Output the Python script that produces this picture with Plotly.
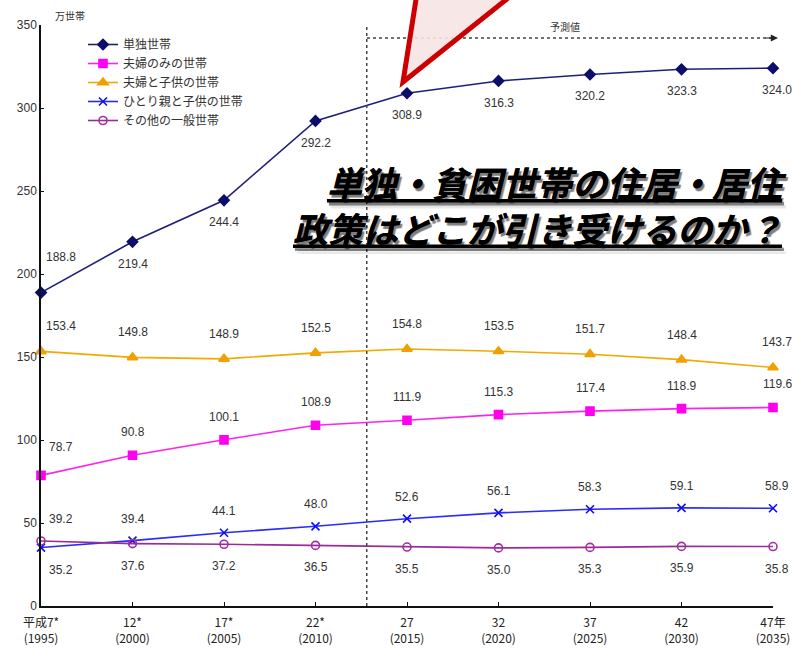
import plotly.graph_objects as go

# ---------------- data ----------------
x_labels = ["平成7*<br>(1995)", "12*<br>(2000)", "17*<br>(2005)", "22*<br>(2010)",
            "27<br>(2015)", "32<br>(2020)", "37<br>(2025)", "42<br>(2030)", "47年<br>(2035)"]
series_names = ["単独世帯", "夫婦のみの世帯", "夫婦と子供の世帯", "ひとり親と子供の世帯", "その他の一般世帯"]
single = [188.8, 219.4, 244.4, 292.2, 308.9, 316.3, 320.2, 323.3, 324.0]
couple_only = [78.7, 90.8, 100.1, 108.9, 111.9, 115.3, 117.4, 118.9, 119.6]
couple_kids = [153.4, 149.8, 148.9, 152.5, 154.8, 153.5, 151.7, 148.4, 143.7]
single_parent = [35.2, 39.4, 44.1, 48.0, 52.6, 56.1, 58.3, 59.1, 58.9]
other = [39.2, 37.6, 37.2, 36.5, 35.5, 35.0, 35.3, 35.9, 35.8]
y_ticks = [0, 50, 100, 150, 200, 250, 300, 350]
forecast_start = 3.56  # position of the forecast divider (between 2010 and 2015)

# ---------------- layout helpers (pixel -> paper) ----------------
W, H = 792, 651
L, R, T, B = 41, 792 - 773, 25, 651 - 606
PW, PH = W - L - R, H - T - B


def px(xp):
    return (xp - L) / PW


def py(yp):
    return (H - B - yp) / PH


xs = list(range(len(x_labels)))
styles = [
    dict(data=single, color="#1f1f7a", mcolor="#0d0d6b", symbol="diamond", size=8, shift=-22, first=36),
    dict(data=couple_only, color="#ff22ee", mcolor="#ff00ee", symbol="square", size=8, shift=23, first=28),
    dict(data=couple_kids, color="#f2a900", mcolor="#f0a000", symbol="triangle-up", size=9, shift=25, first=25),
    dict(data=single_parent, color="#2a2aff", mcolor="#1010ee", symbol="x-thin-open", size=8, shift=22, first=-22),
    dict(data=other, color="#9a2c9a", mcolor="#a030a0", symbol="circle-open", size=8, shift=-22, first=22),
]

fig = go.Figure()
for name, st in zip(series_names, styles):
    fig.add_trace(go.Scatter(
        x=xs, y=st["data"], name=name, mode="lines+markers",
        line=dict(color=st["color"], width=1.6),
        marker=dict(symbol=st["symbol"], size=st["size"], color=st["mcolor"],
                    line=dict(color=st["mcolor"], width=1.6)),
        cliponaxis=False,
    ))

annotations = []
for st in styles:
    for i, v in enumerate(st["data"]):
        xshift = 0
        yshift = st["shift"]
        if i == 0:
            xshift = 20
            yshift = st["first"]
        if i == len(xs) - 1:
            xshift = 4
        annotations.append(dict(
            x=i, y=v, xref="x", yref="y", text=f"{v:.1f}", showarrow=False,
            xshift=xshift, yshift=yshift,
            font=dict(family="Arial, Liberation Sans", size=12, color="#333333"),
        ))

# unit label
annotations.append(dict(x=px(70), y=py(15), xref="paper", yref="paper", text="万世帯",
                        xanchor="center", yanchor="middle",
                        showarrow=False, font=dict(family="Noto Sans CJK JP", size=10, color="#333333")))
# forecast label
annotations.append(dict(x=px(565), y=py(27), xref="paper", yref="paper", text="予測値",
                        xanchor="center", yanchor="middle",
                        showarrow=False, font=dict(family="Noto Sans CJK JP", size=10, color="#333333")))
# forecast arrow head
annotations.append(dict(x=px(778), y=py(38), ax=-14, ay=0, xref="paper", yref="paper",
                        axref="pixel", ayref="pixel", text="", showarrow=True,
                        arrowhead=2, arrowsize=1.2, arrowwidth=1.2, arrowcolor="#222222"))
# overlay headline
annotations.append(dict(
    x=px(789), y=py(205), xref="paper", yref="paper", xanchor="right", yanchor="middle",
    align="right", showarrow=False,
    text="<b><i><u>単独・貧困世帯の住居・居住</u></i></b><br><b><i><u>政策はどこが引き受けるのか？</u></i></b>",
    font=dict(family="Noto Sans CJK JP", size=35, color="#000000",
              shadow="2px 3px 1px rgba(0,0,0,0.3)"),
))

shapes = [
    # forecast divider (vertical dotted)
    dict(type="line", xref="x", yref="paper", x0=forecast_start, x1=forecast_start, y0=0, y1=1.0,
         line=dict(color="#444444", width=1.5, dash="dot")),
    # forecast horizontal dotted arrow line
    dict(type="line", xref="paper", yref="paper", x0=px(367), x1=px(775), y0=py(38), y1=py(38),
         line=dict(color="#444444", width=1.5, dash="dot")),
    # red pointer triangle (speech bubble tail)
    dict(type="path", xref="paper", yref="paper",
         path=f"M {px(423)},{py(-45)} L {px(403)},{py(82)} L {px(562)},{py(-45)} Z",
         fillcolor="rgba(246,228,228,0.9)", line=dict(color="#cc0000", width=5)),
]

fig.update_layout(
    width=W, height=H,
    margin=dict(l=L, r=R, t=T, b=B),
    paper_bgcolor="white", plot_bgcolor="white",
    showlegend=True,
    legend=dict(x=px(83), y=py(30), xanchor="left", yanchor="top",
                font=dict(family="Noto Sans CJK JP", size=12, color="#333333"),
                bgcolor="rgba(0,0,0,0)", itemwidth=30, tracegroupgap=0),
    annotations=annotations,
    shapes=shapes,
    xaxis=dict(range=[0, 8], tickvals=xs, ticktext=x_labels, showgrid=False, zeroline=False,
               showline=True, linecolor="#111111", linewidth=1.5, automargin=False,
               ticks="inside", ticklen=4, tickcolor="#111111", ticklabelstandoff=5,
               tickfont=dict(family="Noto Sans CJK JP, Arial", size=12, color="#222222")),
    yaxis=dict(range=[0, 350], tickvals=y_ticks, showgrid=False, zeroline=False,
               showline=True, linecolor="#111111", linewidth=1.5, automargin=False,
               ticks="inside", ticklen=3, tickcolor="#111111",
               tickfont=dict(family="Arial, Liberation Sans", size=12, color="#333333")),
)

fig.write_html("out.html")
